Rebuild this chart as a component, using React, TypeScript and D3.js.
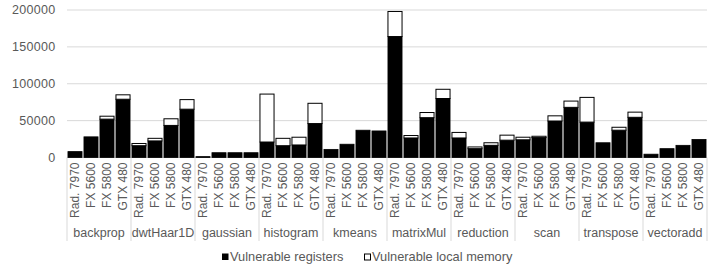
import React from 'react';
import * as d3 from 'd3';

const groups = ['backprop', 'dwtHaar1D', 'gaussian', 'histogram', 'kmeans', 'matrixMul', 'reduction', 'scan', 'transpose', 'vectoradd'];
const gpus = ['Rad. 7970', 'FX 5600', 'FX 5800', 'GTX 480'];

// vulnerable registers, 4 gpus per benchmark
const registers = [
  8000, 28000, 52000, 79000,
  16000, 22500, 43500, 65500,
  1200, 6500, 6500, 6500,
  21000, 16000, 17000, 46000,
  11000, 18000, 37000, 36000,
  164000, 26500, 54000, 80000,
  26500, 12000, 16500, 23500,
  24000, 27000, 49500, 68000,
  48000, 20000, 37000, 54500,
  4500, 12000, 16500, 24500
];

// vulnerable local memory (stacked on top)
const localMem = [
  0, 0, 4000, 6000,
  3000, 3500, 9000, 13000,
  0, 0, 0, 0,
  65000, 10000, 10500, 27500,
  0, 0, 0, 0,
  34000, 3300, 7000, 12500,
  7500, 2300, 3500, 6800,
  3500, 1800, 7000, 8500,
  33500, 0, 4000, 7000,
  0, 0, 0, 0
];

const yTicks = [0, 50000, 100000, 150000, 200000];
const seriesNames = ['Vulnerable registers', 'Vulnerable local memory'];

const W = 727;
const H = 266;
const plot = { left: 67, right: 707, top: 10, bottom: 157.5 };
const textColor = '#595959';
const gridColor = '#d9d9d9';
const font = '"Liberation Sans", Arial, sans-serif';

export default function App() {
  const keys = groups.flatMap((g, gi) => gpus.map((_, i) => gi * 4 + i));

  const x = d3
    .scaleBand<number>()
    .domain(keys)
    .range([plot.left, plot.right])
    .paddingInner(0.12)
    .paddingOuter(0.06);

  const y = d3.scaleLinear().domain([0, 200000]).range([plot.bottom, plot.top]);

  const groupW = x.step() * gpus.length;

  return (
    <svg
      width={W}
      height={H}
      style={{ position: 'absolute', left: 0, top: 0, background: '#fff' }}
      fontFamily={font}
    >
      {/* grid + y labels */}
      <g className="y-axis">
        {yTicks.map(t => (
          <g key={t}>
            <line x1={plot.left} x2={plot.right} y1={y(t)} y2={y(t)} stroke={gridColor} strokeWidth={1} />
            <text x={55.5} y={y(t)} dy="0.35em" fontSize={12.5} letterSpacing={0.3} fill={textColor} textAnchor="end">
              {t}
            </text>
          </g>
        ))}
      </g>

      {/* group separators */}
      <g className="x-axis">
        {d3.range(groups.length + 1).map(g => {
          const gx = plot.left + g * groupW;
          return <line key={g} x1={gx} x2={gx} y1={plot.bottom} y2={241} stroke={gridColor} strokeWidth={1} />;
        })}
        {keys.map(k => {
          const cx = (x(k) || 0) + x.bandwidth() / 2;
          return (
            <text
              key={k}
              transform={`translate(${cx - 0.5},${162.5}) rotate(-90)`}
              dy="0.35em"
              fontSize={12}
              fill={textColor}
              textAnchor="end"
            >
              {gpus[k % 4]}
            </text>
          );
        })}
        {groups.map((g, gi) => (
          <text
            key={g}
            x={plot.left + gi * groupW + groupW / 2}
            y={236.5}
            fontSize={12.5}
            fill={textColor}
            textAnchor="middle"
          >
            {g}
          </text>
        ))}
      </g>

      {/* bars */}
      <g className="bars">
        {keys.map(k => {
          const bx = x(k) || 0;
          const r = registers[k];
          const m = localMem[k];
          return (
            <g key={k}>
              <rect x={bx} y={y(r)} width={x.bandwidth()} height={y(0) - y(r)} fill="#000" stroke="#000" strokeWidth={0.8} />
              {m > 0 && (
                <rect
                  x={bx}
                  y={y(r + m)}
                  width={x.bandwidth()}
                  height={y(r) - y(r + m)}
                  fill="#fff"
                  stroke="#000"
                  strokeWidth={1}
                />
              )}
            </g>
          );
        })}
      </g>

      {/* legend */}
      <g className="legend" fontSize={12.8} fill={textColor}>
        <rect x={222} y={253.5} width={6.5} height={6.5} fill="#000" />
        <text x={230} y={261} fill={textColor}>{seriesNames[0]}</text>
        <rect x={364.5} y={254} width={6} height={6} fill="#fff" stroke="#000" strokeWidth={1} />
        <text x={372} y={261} fill={textColor}>{seriesNames[1]}</text>
      </g>
    </svg>
  );
}
